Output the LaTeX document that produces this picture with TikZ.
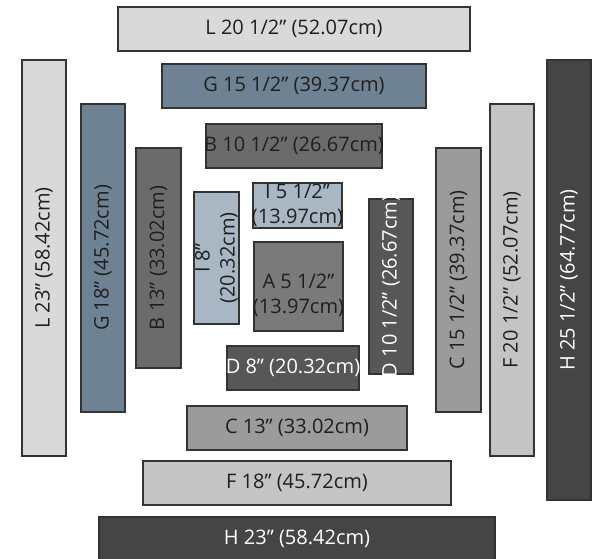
\documentclass[tikz,border=0pt]{standalone}
\usepackage{fontspec}
\setmainfont{Open Sans}
\usepackage{tikz}
\definecolor{colL}{HTML}{D9D9D9}
\definecolor{colG}{HTML}{6F8293}
\definecolor{colB}{HTML}{6B6B6B}
\definecolor{colI}{HTML}{A9B6C4}
\definecolor{colA}{HTML}{7A7A7A}
\definecolor{colD}{HTML}{575757}
\definecolor{colC}{HTML}{9B9B9B}
\definecolor{colF}{HTML}{C4C4C4}
\definecolor{colH}{HTML}{454545}
\definecolor{edge}{HTML}{333333}
\begin{document}
\begin{tikzpicture}[x=1pt,y=-1pt,
  piece/.style={draw=edge,line width=1.2pt,inner sep=0pt},
  across/.style={piece,minimum height=44pt},
  upright/.style={piece,minimum width=44pt},
  words/.style={inner sep=0pt,text=black!88,font=\fontsize{20}{25}\selectfont,align=center},
  upwords/.style={words,rotate=90},
  light/.style={text=white}]
\useasboundingbox (0,0) rectangle (594,559);
% top strips
\node[across,fill=colL,minimum width=352pt,label={[words]center:L 20 1/2” (52.07cm)}] (Ltop) at (294,29) {};
\node[across,fill=colG,minimum width=264pt,label={[words]center:G 15 1/2” (39.37cm)}] (Gtop) at (294,86) {};
\node[across,fill=colB,minimum width=176pt,label={[words]center:B 10 1/2” (26.67cm)}] (Btop) at (294,146) {};
\node[across,fill=colI,minimum width=89pt,minimum height=45pt,label={[words]center:{I 5 1/2”\\(13.97cm)}}] (Itop) at (297.5,205.5) {};
% left strips
\node[upright,fill=colL,minimum height=396pt,label={[upwords]center:L 23” (58.42cm)}] (Lleft) at (44,258) {};
\node[upright,fill=colG,minimum height=308pt,label={[upwords]center:G 18” (45.72cm)}] (Gleft) at (103,258) {};
\node[upright,fill=colB,minimum height=220pt,minimum width=45pt,label={[upwords]center:B 13” (33.02cm)}] (Bleft) at (158.5,258) {};
\node[upright,fill=colI,minimum height=132pt,minimum width=45pt,label={[upwords]center:{I 8”\\(20.32cm)}}] (Ileft) at (216.5,258) {};
% centre
\node[piece,fill=colA,minimum width=89pt,minimum height=89pt,label={[words,yshift=-9pt]center:{A 5 1/2”\\(13.97cm)}}] (A) at (298.5,286.5) {};
% right strips
\node[upright,fill=colD,minimum height=175pt,label={[upwords,light]center:D 10 1/2” (26.67cm)}] (Dright) at (391,286.5) {};
\node[upright,fill=colC,minimum height=264pt,minimum width=45pt,label={[upwords]center:C 15 1/2” (39.37cm)}] (Cright) at (458.5,280) {};
\node[upright,fill=colF,minimum height=352pt,label={[upwords]center:F 20 1/2” (52.07cm)}] (Fright) at (512,280) {};
\node[upright,fill=colH,minimum height=440pt,label={[upwords,light]center:H 25 1/2” (64.77cm)}] (Hright) at (569,280) {};
% bottom strips
\node[across,fill=colD,minimum width=132pt,label={[words,light]center:D 8” (20.32cm)}] (Dbot) at (293,368) {};
\node[across,fill=colC,minimum width=220pt,label={[words]center:C 13” (33.02cm)}] (Cbot) at (297,428) {};
\node[across,fill=colF,minimum width=308pt,label={[words]center:F 18” (45.72cm)}] (Fbot) at (297,483) {};
\node[across,fill=colH,minimum width=396pt,label={[words,light]center:H 23” (58.42cm)}] (Hbot) at (297,539) {};
\end{tikzpicture}
\end{document}
